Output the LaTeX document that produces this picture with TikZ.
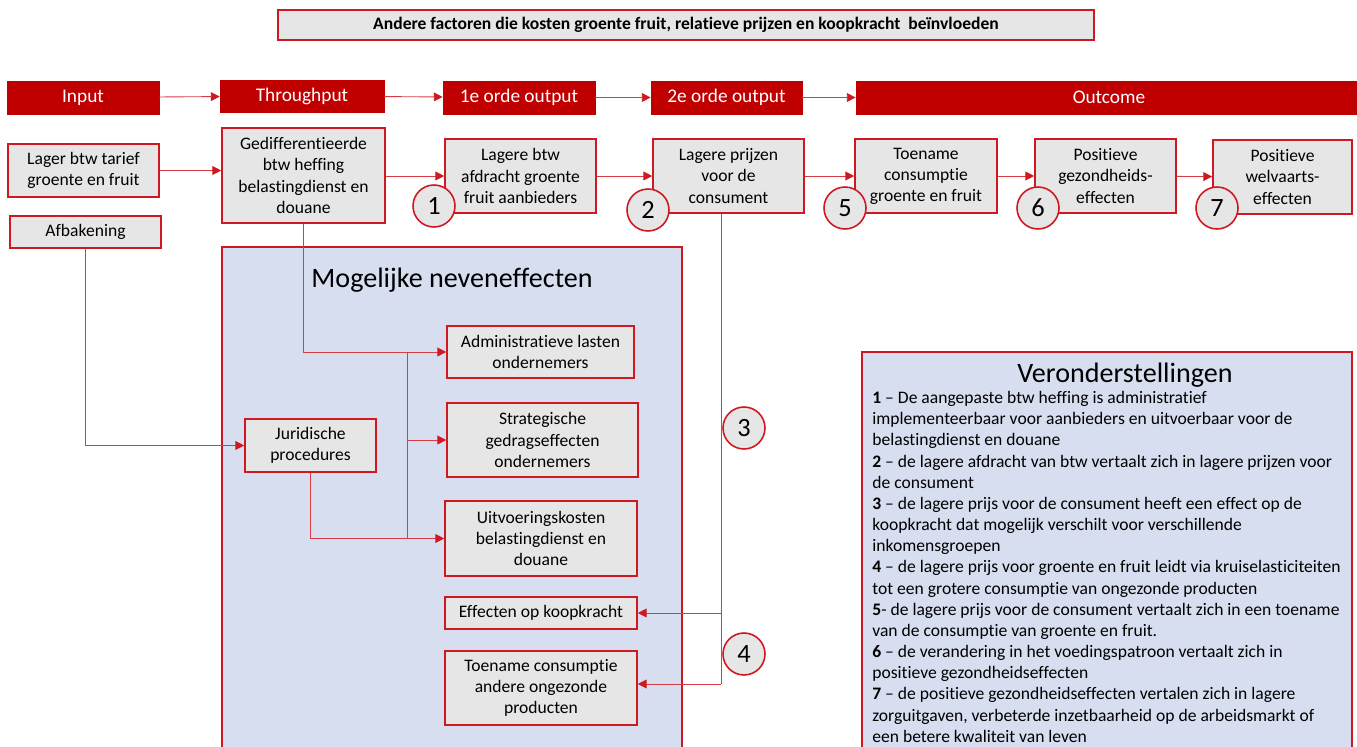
\documentclass[tikz,border=0pt]{standalone}
\usepackage{fontspec}
\setmainfont{Carlito}[RawFeature={-liga;-clig;-calt;-dlig}]
\usetikzlibrary{arrows.meta}
\definecolor{donkerrood}{RGB}{192,0,0}
\definecolor{randrood}{RGB}{208,24,32}
\definecolor{lijnrood}{RGB}{214,60,70}
\definecolor{grijsvak}{RGB}{230,230,230}
\definecolor{blauwvak}{RGB}{214,222,240}
\newcommand\pxu{0.02cm}
\tikzset{
	hdr/.style={draw=donkerrood, fill=donkerrood, text=white, font=\fontsize{11}{13}\selectfont, inner sep=0pt},
	box/.style={draw=randrood, line width=0.9pt, fill=grijsvak, align=center, inner sep=0pt, font=\fontsize{10}{12}\selectfont},
	nummer/.style={circle, draw=randrood, line width=0.9pt, fill=grijsvak, minimum size=42*\pxu, inner sep=0pt, font=\fontsize{15}{18}\selectfont},
	paneel/.style={draw=randrood, line width=0.9pt, fill=blauwvak},
	lijn/.style={draw=lijnrood, line width=0.5pt},
	verbind/.style={lijn, arrows={-{Triangle[length=5pt,width=5pt,color=randrood]}}}
}

\begin{document}
\begin{tikzpicture}[x=\pxu, y=-\pxu]
			%%%%% START %%%%%
			\useasboundingbox (0,0) rectangle (1357,747);
			
			% titel
			\node[box, font=\bfseries\fontsize{10}{12}\selectfont, minimum width=816*\pxu, minimum height=30*\pxu] (titel) at (686,25) {Andere factoren die kosten groente fruit, relatieve prijzen en koopkracht\ \ beïnvloeden};
			
			% kopbalken
			\node[hdr, minimum width=152*\pxu, minimum height=33*\pxu] (input) at (83,97.5) {Input};
			\node[hdr, minimum width=164*\pxu, minimum height=32*\pxu] (through) at (302,96) {Throughput};
			\node[hdr, minimum width=152*\pxu, minimum height=33*\pxu] (out1) at (519,97.5) {1e orde output};
			\node[hdr, minimum width=151*\pxu, minimum height=33*\pxu] (out2) at (726.5,97.5) {2e orde output};
			\node[hdr, minimum width=506*\pxu, minimum height=33*\pxu] (outcome) at (1109,97.5) {Outcome};
			
			\draw[verbind] (input) -- (through);
			\draw[verbind] (through) -- (out1);
			\draw[verbind] (out1) -- (out2);
			\draw[verbind] (out2) -- (outcome);
			
			% blokken neveneffecten en veronderstellingen
			\draw[paneel] (222,247) rectangle (682,760);
			\node[font=\fontsize{16}{19}\selectfont] (neven) at (452,280) {Mogelijke neveneffecten};
			\draw[paneel] (862,352) rectangle (1352,760);
			\node[font=\fontsize{16}{19}\selectfont] (verond) at (1125,375) {Veronderstellingen};
			
			% keten
			\node[box, minimum width=151*\pxu, minimum height=53*\pxu] (lager) at (83.5,170.5) {Lager btw tarief\\groente en fruit};
			\node[box, minimum width=163*\pxu, minimum height=95*\pxu] (gedif) at (303.5,175.5) {Gedifferentieerde\\btw heffing\\belastingdienst en\\douane};
			\node[box, minimum width=151*\pxu, minimum height=32*\pxu] (afbak) at (85.5,232) {Afbakening};
			\node[box, minimum width=151*\pxu, minimum height=74*\pxu] (btw) at (520.5,176) {Lagere btw\\afdracht groente\\fruit aanbieders};
			\node[box, minimum width=151*\pxu, minimum height=74*\pxu] (prijzen) at (728.5,176) {Lagere prijzen\\voor de\\consument};
			\node[box, minimum width=142*\pxu, minimum height=74*\pxu] (toename) at (926,176) {Toename\\consumptie\\groente en fruit};
			\node[box, minimum width=141*\pxu, minimum height=74*\pxu] (gezond) at (1105.5,176) {Positieve\\gezondheids-\\effecten};
			\node[box, minimum width=139*\pxu, minimum height=74*\pxu] (welv) at (1282.5,177) {Positieve\\welvaarts-\\effecten};
			
			\draw[verbind] (lager) -- (lager -| gedif.west);
			\draw[verbind] (gedif.east |- btw) -- (btw.west);
			\draw[verbind] (btw) -- (prijzen);
			\draw[verbind] (prijzen) -- (toename);
			\draw[verbind] (toename) -- (gezond);
			\draw[verbind] (gezond) -- (welv);
			
			% neveneffecten
			\node[box, minimum width=187*\pxu, minimum height=52*\pxu] (admin) at (540.5,352) {Administratieve lasten\\ondernemers};
			\node[box, minimum width=131*\pxu, minimum height=53*\pxu] (jurid) at (310.5,445.5) {Juridische\\procedures};
			\node[box, minimum width=191*\pxu, minimum height=74*\pxu] (strat) at (542.5,440) {Strategische\\gedragseffecten\\ondernemers};
			\node[box, minimum width=192*\pxu, minimum height=75*\pxu] (uitv) at (541,538.5) {Uitvoeringskosten\\belastingdienst en\\douane};
			\node[box, minimum width=192*\pxu, minimum height=32*\pxu] (koop) at (541,613) {Effecten op koopkracht};
			\node[box, minimum width=192*\pxu, minimum height=74*\pxu] (ongez) at (541,688) {Toename consumptie\\andere ongezonde\\producten};
			
			\coordinate (bus) at (407,440);
			\coordinate (pbus) at (721,613);
			
			\draw[verbind] (gedif.south) |- (admin.west);
			\draw[verbind] (afbak.south) |- (jurid.west);
			\draw[verbind] (jurid.south) |- (uitv.west);
			\draw[lijn] (bus |- admin.west) -- (bus |- uitv.west);
			\draw[verbind] (bus) -- (strat.west);
			
			\draw[lijn] (pbus |- prijzen.south) -- (pbus |- 0,684);
			\draw[verbind] (pbus) -- (koop.east);
			\draw[verbind] (pbus |- 0,684) -- (ongez.east |- 0,684);
			
			% nummers
			\node[nummer] (c1) at (434,206) {1};
			\node[nummer] (c2) at (648,210) {2};
			\node[nummer] (c5) at (845,208) {5};
			\node[nummer] (c6) at (1038,208) {6};
			\node[nummer] (c7) at (1217,208) {7};
			\node[nummer] (c3) at (744,428) {3};
			\node[nummer] (c4) at (744,654) {4};
			
			% toelichting
			\node[anchor=north west, align=left, inner sep=0pt, font=\fontsize{10}{12.05}\selectfont] (tekst) at (872,391) {%
				\textbf{1} -- De aangepaste btw heffing is administratief\\
				implementeerbaar voor aanbieders en uitvoerbaar voor de\\
				belastingdienst en douane\\
				\textbf{2} -- de lagere afdracht van btw vertaalt zich in lagere prijzen voor\\
				de consument\\
				\textbf{3} -- de lagere prijs voor de consument heeft een effect op de\\
				koopkracht dat mogelijk verschilt voor verschillende\\
				inkomensgroepen\\
				\textbf{4} -- de lagere prijs voor groente en fruit leidt via kruiselasticiteiten\\
				tot een grotere consumptie van ongezonde producten\\
				\textbf{5}- de lagere prijs voor de consument vertaalt zich in een toename\\
				van de consumptie van groente en fruit.\\
				\textbf{6} -- de verandering in het voedingspatroon vertaalt zich in\\
				positieve gezondheidseffecten\\
				\textbf{7} -- de positieve gezondheidseffecten vertalen zich in lagere\\
				zorguitgaven, verbeterde inzetbaarheid op de arbeidsmarkt of\\
				een betere kwaliteit van leven};
			%%%%% END %%%%%
\end{tikzpicture}
\end{document}
